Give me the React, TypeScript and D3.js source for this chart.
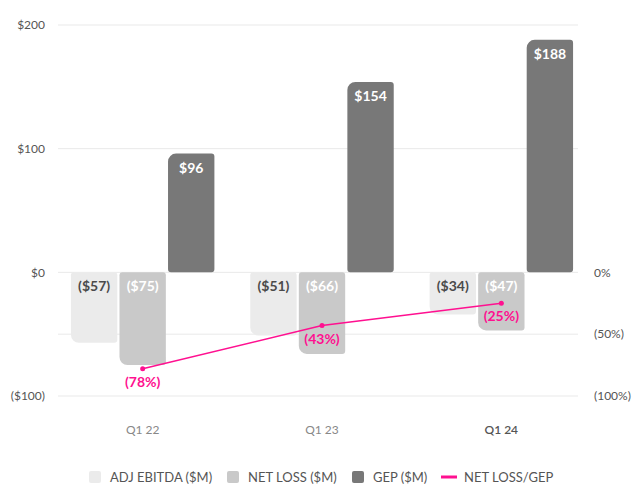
import React from "react"
import * as d3 from "d3"

const categories = ["Q1 22", "Q1 23", "Q1 24"]
const adjEbitda = [-57, -51, -34]
const netLoss = [-75, -66, -47]
const gep = [96, 154, 188]
const lossRatio = [-0.78, -0.43, -0.25]
const leftTicks = [200, 100, 0, -100]
const rightTicks = [0, -0.5, -1]

const seriesNames = ["ADJ EBITDA ($M)", "NET LOSS ($M)", "GEP ($M)"]
const seriesColors = ["#ebebeb", "#c9c9c9", "#787878"]
const labelColors = ["#4a4a4a", "#ffffff", "#ffffff"]
const pink = "#ff1090"

const width = 640
const height = 487

const fmtMoney = (v: number) => (v < 0 ? `($${Math.abs(v)})` : `$${v}`)
const fmtPct = (v: number) => (v < 0 ? `(${Math.round(Math.abs(v) * 100)}%)` : `${Math.round(v * 100)}%`)

// rect with its own radius per corner
function roundedRect(x: number, y: number, w: number, h: number, tl: number, tr: number, br: number, bl: number) {
  const p = d3.path()
  p.moveTo(x + tl, y)
  p.lineTo(x + w - tr, y)
  p.arcTo(x + w, y, x + w, y + tr, tr)
  p.lineTo(x + w, y + h - br)
  p.arcTo(x + w, y + h, x + w - br, y + h, br)
  p.lineTo(x + bl, y + h)
  p.arcTo(x, y + h, x, y + h - bl, bl)
  p.lineTo(x, y + tl)
  p.arcTo(x, y, x + tl, y, tl)
  p.closePath()
  return p.toString()
}

export default function App() {
  const ref = React.useRef<SVGSVGElement>(null)

  React.useEffect(() => {
    const svg = d3.select(ref.current)
    svg.selectAll("*").remove()
    svg.attr("font-family", "Lato, sans-serif")

    const y = d3.scaleLinear().domain([-100, 200]).range([396, 25])
    const yPct = d3.scaleLinear().domain([-1, 2]).range([396, 25])
    const x0 = d3.scaleBand().domain(categories).range([53, 591]).paddingInner(0.2).paddingOuter(0.1)
    const x1 = d3.scaleBand().domain(seriesNames).range([0, x0.bandwidth()]).paddingInner(0.045)

    const gridLeft = 58
    const gridRight = 578

    // grid lines
    const grid = svg.append("g")
    const gridYs = [...leftTicks.map((t) => y(t)), ...rightTicks.filter((t) => t !== 0 && t !== -1).map((t) => yPct(t))]
    grid
      .selectAll("line")
      .data(gridYs)
      .enter()
      .append("line")
      .attr("x1", gridLeft)
      .attr("x2", gridRight)
      .attr("y1", (d) => d)
      .attr("y2", (d) => d)
      .attr("stroke", "#e9e9e9")
      .attr("stroke-width", 1)

    // left axis
    svg
      .append("g")
      .selectAll("text")
      .data(leftTicks)
      .enter()
      .append("text")
      .attr("x", 45)
      .attr("y", (d) => y(d))
      .attr("dy", "0.35em")
      .attr("text-anchor", "end")
      .attr("font-size", 12)
      .attr("fill", "#555")
      .text((d) => fmtMoney(d))

    // right axis
    svg
      .append("g")
      .selectAll("text")
      .data(rightTicks)
      .enter()
      .append("text")
      .attr("x", 594)
      .attr("y", (d) => yPct(d))
      .attr("dy", "0.35em")
      .attr("font-size", 12)
      .attr("fill", "#555")
      .text((d) => fmtPct(d))

    // category labels
    svg
      .append("g")
      .selectAll("text")
      .data(categories)
      .enter()
      .append("text")
      .attr("x", (d) => x0(d)! + x0.bandwidth() / 2)
      .attr("y", 430)
      .attr("dy", "0.35em")
      .attr("text-anchor", "middle")
      .attr("font-size", 12)
      .attr("fill", (d, i) => (i === categories.length - 1 ? "#555" : "#888"))
      .attr("font-weight", (d, i) => (i === categories.length - 1 ? 600 : 400))
      .text((d) => d)

    // bars
    const allSeries = [adjEbitda, netLoss, gep]
    const bars: { cat: string; s: number; v: number }[] = []
    categories.forEach((c, i) => allSeries.forEach((vals, s) => bars.push({ cat: c, s, v: vals[i] })))
    const bw = x1.bandwidth()
    const barX = (d: { cat: string; s: number }) => x0(d.cat)! + x1(seriesNames[d.s])!

    svg
      .append("g")
      .selectAll("path")
      .data(bars)
      .enter()
      .append("path")
      .attr("fill", (d) => seriesColors[d.s])
      .attr("d", (d) => {
        const top = Math.min(y(d.v), y(0))
        const h = Math.abs(y(d.v) - y(0))
        return d.v >= 0
          ? roundedRect(barX(d), top, bw, h, 8, 3, 3, 3)
          : roundedRect(barX(d), top, bw, h, 3, 3, 3, 8)
      })

    svg
      .append("g")
      .selectAll("text")
      .data(bars)
      .enter()
      .append("text")
      .attr("x", (d) => barX(d) + bw / 2)
      .attr("y", (d) => Math.min(y(d.v), y(0)) + 19)
      .attr("text-anchor", "middle")
      .attr("font-size", 14)
      .attr("font-weight", 700)
      .attr("fill", (d) => labelColors[d.s])
      .text((d) => fmtMoney(d.v))

    // net loss / GEP line
    const pts = categories.map((c, i) => ({
      x: x0(c)! + x1(seriesNames[1])! + bw / 2,
      y: yPct(lossRatio[i]),
      v: lossRatio[i],
    }))
    const line = d3
      .line<{ x: number; y: number }>()
      .x((d) => d.x)
      .y((d) => d.y)
    svg
      .append("path")
      .datum(pts)
      .attr("fill", "none")
      .attr("stroke", pink)
      .attr("stroke-width", 1.5)
      .attr("d", line)
    svg
      .append("g")
      .selectAll("circle")
      .data(pts)
      .enter()
      .append("circle")
      .attr("cx", (d) => d.x)
      .attr("cy", (d) => d.y)
      .attr("r", 2.5)
      .attr("fill", pink)
    svg
      .append("g")
      .selectAll("text")
      .data(pts)
      .enter()
      .append("text")
      .attr("x", (d) => d.x)
      .attr("y", (d) => d.y + 18)
      .attr("text-anchor", "middle")
      .attr("font-size", 14)
      .attr("font-weight", 700)
      .attr("fill", pink)
      .text((d) => fmtPct(d.v))

    // legend
    const legend = svg.append("g").attr("font-size", 13).attr("fill", "#555")
    const legendY = 477
    const swatchX = [89, 227, 352]
    seriesNames.forEach((name, i) => {
      legend
        .append("rect")
        .attr("x", swatchX[i])
        .attr("y", legendY - 6)
        .attr("width", 12)
        .attr("height", 12)
        .attr("rx", 2)
        .attr("fill", seriesColors[i])
      legend
        .append("text")
        .attr("x", swatchX[i] + 21)
        .attr("y", legendY)
        .attr("dy", "0.35em")
        .text(name)
    })
    legend
      .append("line")
      .attr("x1", 441)
      .attr("x2", 457)
      .attr("y1", legendY)
      .attr("y2", legendY)
      .attr("stroke", pink)
      .attr("stroke-width", 3)
    legend
      .append("text")
      .attr("x", 464)
      .attr("y", legendY)
      .attr("dy", "0.35em")
      .text("NET LOSS/GEP")
  }, [])

  return (
    <svg
      ref={ref}
      width={width}
      height={height}
      style={{ position: "absolute", left: 0, top: 0, background: "#fff" }}
    />
  )
}
